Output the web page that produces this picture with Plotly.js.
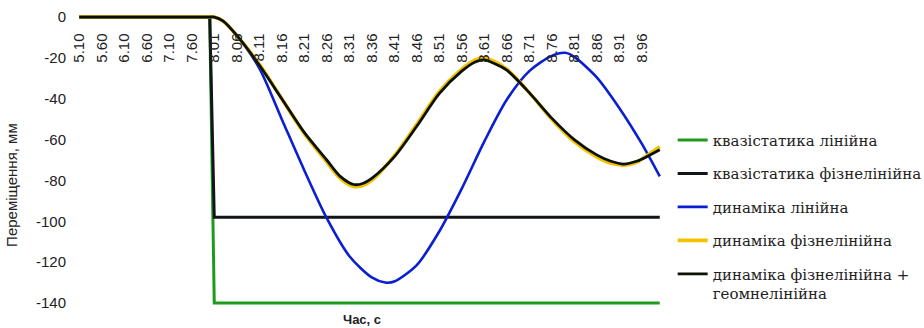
<!DOCTYPE html>
<html>
<head>
<meta charset="utf-8">
<script src="https://cdn.plot.ly/plotly-3.0.1.min.js"></script>
<style>html,body{margin:0;padding:0;background:#fff;}#chart{width:924px;height:328px;}</style>
</head>
<body>
<div id="chart"></div>
<script>
// Time categories (category axis, equally spaced)
const categories = ['5.10','5.20','5.30','5.40','5.50','5.60','5.70','5.80','5.90','6.00',
'6.10','6.20','6.30','6.40','6.50','6.60','6.70','6.80','6.90','7.00',
'7.10','7.20','7.30','7.40','7.50','7.60','7.70','7.80','7.90','8.00',
'8.01','8.02','8.03','8.04','8.05','8.06','8.07','8.08','8.09','8.10',
'8.11','8.12','8.13','8.14','8.15','8.16','8.17','8.18','8.19','8.20',
'8.21','8.22','8.23','8.24','8.25','8.26','8.27','8.28','8.29','8.30',
'8.31','8.32','8.33','8.34','8.35','8.36','8.37','8.38','8.39','8.40',
'8.41','8.42','8.43','8.44','8.45','8.46','8.47','8.48','8.49','8.50',
'8.51','8.52','8.53','8.54','8.55','8.56','8.57','8.58','8.59','8.60',
'8.61','8.62','8.63','8.64','8.65','8.66','8.67','8.68','8.69','8.70',
'8.71','8.72','8.73','8.74','8.75','8.76','8.77','8.78','8.79','8.80',
'8.81','8.82','8.83','8.84','8.85','8.86','8.87','8.88','8.89','8.90',
'8.91','8.92','8.93','8.94','8.95','8.96','8.97','8.98','8.99','9.00'];

const xTickLabels = ['5.10','5.60','6.10','6.60','7.10','7.60','8.01','8.06','8.11','8.16','8.21',
'8.26','8.31','8.36','8.41','8.46','8.51','8.56','8.61','8.66','8.71','8.76','8.81','8.86','8.91','8.96'];
const yTickVals = [0,-20,-40,-60,-80,-100,-120,-140];
const yTickText = ['0','-20','-40','-60','-80','-100','-120','-140'];

// квазістатика
const quasiX = ['5.10','8.00','8.01','9.00'];
const quasiLinY = [0,0,-140,-140];
const quasiPhysY = [0,0,-98,-98];

// динаміка лінійна
const dynLinX = ['5.10','8.00','8.01','8.03','8.06','8.11','8.16','8.21','8.26','8.31','8.36','8.39','8.41',
'8.46','8.51','8.56','8.61','8.66','8.71','8.76','8.79','8.81','8.86','8.91','8.96','9.00'];
const dynLinY = [0,0,0,-2,-9,-25,-50,-75,-98.5,-117,-127.5,-130,-129.5,
-121.5,-105,-84,-61,-40.5,-26.5,-19,-17.5,-19.5,-29.5,-44.5,-62,-78];

// динаміка фізнелінійна / + геомнелінійна
const dynNlX = ['5.10','8.00','8.01','8.03','8.06','8.11','8.16','8.21','8.26','8.29','8.32','8.34','8.36',
'8.41','8.46','8.51','8.56','8.59','8.61','8.63','8.66','8.71','8.76','8.81','8.86','8.89','8.92','8.95','8.97','9.00'];
const dynPhysY = [0,0,0,-2,-9,-23,-40,-57,-71,-79,-83,-82.5,-80,
-68,-52.5,-36.5,-25.5,-21,-20,-21.5,-25.5,-37,-50,-61,-68.5,-71.5,-72.5,-71,-68,-63.5];
const dynPhysGeomY = [0,0,0,-2,-9,-23.5,-40,-56.5,-70,-78,-82,-81.5,-79,
-68.5,-53.5,-37.5,-26.5,-22,-21,-22.5,-26,-37,-49.5,-60,-67.5,-70.5,-72,-70.5,-68.5,-65];

const names = ['квазістатика лінійна','квазістатика фізнелінійна','динаміка лінійна',
'динаміка фізнелінійна','динаміка фізнелінійна +<br>геомнелінійна'];
const colors = ['#1f9a1f','#111418','#0a1ed2','#f2c200','#0b1205'];

function tr(i, x, y, w, shape) {
  return {x:x, y:y, name:names[i], type:'scatter', mode:'lines', legendgroup:'g'+i,
    line:{color:colors[i], width:w, shape:shape, smoothing:0.8}, hoverinfo:'skip'};
}
const data = [
  tr(0, quasiX, quasiLinY, 3, 'linear'),
  tr(1, quasiX, quasiPhysY, 3, 'linear'),
  tr(2, dynLinX, dynLinY, 2.6, 'spline'),
  tr(3, dynNlX, dynPhysY, 3.6, 'spline'),
  tr(4, dynNlX, dynPhysGeomY, 2.8, 'spline')
];

const layout = {
  width:924, height:328,
  margin:{l:77, r:262, t:14, b:22},
  paper_bgcolor:'#fff', plot_bgcolor:'#fff',
  font:{family:'Liberation Sans, Arial, sans-serif', color:'#222'},
  showlegend:true,
  legend:{xref:'container', yref:'container', x:0.728, y:0.623, xanchor:'left', yanchor:'top',
    traceorder:'grouped', tracegroupgap:11, valign:'top', maxheight:1000,
    font:{family:'DejaVu Serif, serif', size:15, color:'#222'}, bgcolor:'rgba(0,0,0,0)'},
  xaxis:{type:'category', categoryorder:'array', categoryarray:categories,
    range:[-0.5, 129.5], anchor:'free', position:0.988, side:'bottom',
    tickmode:'array', tickvals:xTickLabels, ticktext:xTickLabels, tickangle:-90,
    tickfont:{size:15, color:'#222'}, ticks:'', ticklabelstandoff:12,
    showgrid:false, zeroline:false, showline:false},
  yaxis:{range:[-141.5, 1.5], tickmode:'array', tickvals:yTickVals, ticktext:yTickText,
    tickfont:{size:15, color:'#222'}, ticks:'', ticklabelstandoff:10,
    showgrid:false, zeroline:false, showline:false},
  annotations:[
    {text:'Переміщення, мм', xref:'paper', yref:'paper', x:-0.111, y:0.415, textangle:-90,
      showarrow:false, font:{size:15, color:'#222'}, xanchor:'center', yanchor:'middle'},
    {text:'<b>Час, с</b>', xref:'paper', yref:'paper', x:0.487, y:-0.045,
      showarrow:false, font:{size:13, color:'#222'}, xanchor:'center', yanchor:'middle'}
  ]
};

Plotly.newPlot('chart', data, layout, {staticPlot:true, displayModeBar:false});
</script>
</body>
</html>
